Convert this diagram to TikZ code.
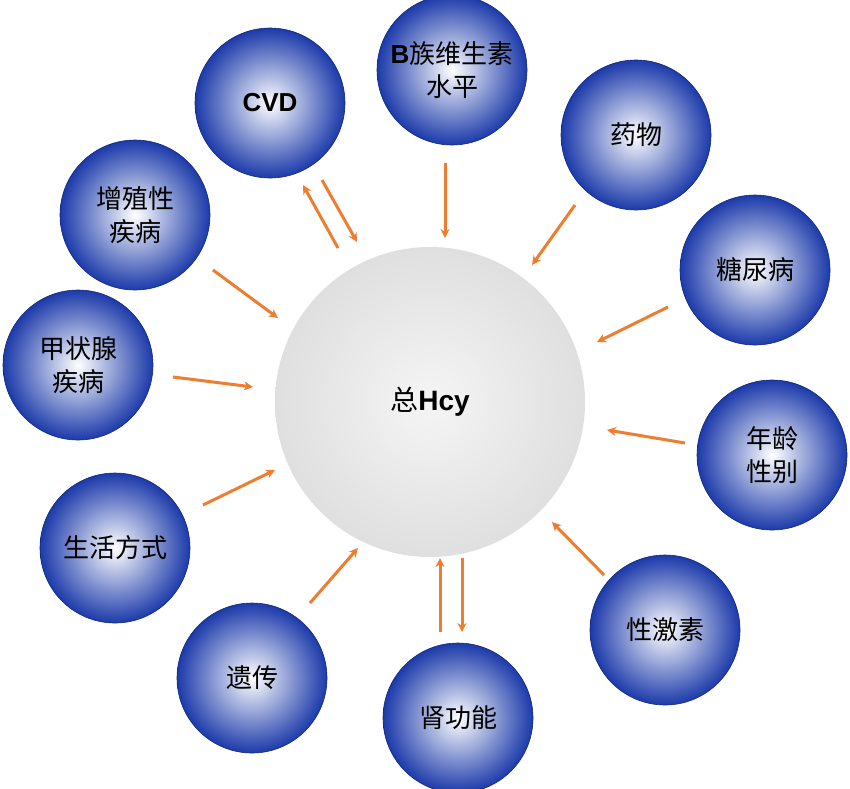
\documentclass[tikz,border=0pt]{standalone}
\usetikzlibrary{arrows.meta}
\usepackage{fontspec}
\setmainfont{Noto Sans CJK SC}
\newfontfamily\lat{Liberation Sans}
\definecolor{ballblue}{RGB}{28,58,170}
\definecolor{arr}{RGB}{237,125,49}
\begin{document}
\begin{tikzpicture}[x=1pt,y=-1pt,
  ball/.style={circle,minimum size=150pt,inner sep=0pt,align=center,font=\fontsize{26}{33}\selectfont,
    shading=radial,inner color=white,middle color={white!35!ballblue},outer color=ballblue,draw=ballblue!70!black,line width=0.6pt},
  ar/.style={draw=arr,line width=3pt,-{Stealth[length=9pt,width=9pt]}}]
\useasboundingbox (0,0) rectangle (850,788);
\node[circle,minimum size=310pt,shading=radial,inner color={gray!8},outer color={gray!25},font=\fontsize{28}{32}\selectfont] (c) at (430,402) {总{\lat\bfseries Hcy}};
\node[ball] (cvd) at (270,103) {{\lat\bfseries CVD}};
\node[ball] (b) at (452,70) {{\lat\bfseries B}族维生素\\水平};
\node[ball] (yw) at (636,135) {药物};
\node[ball] (tn) at (755,270) {糖尿病};
\node[ball] (nl) at (772,455) {年龄\\性别};
\node[ball] (xj) at (665,630) {性激素};
\node[ball] (sg) at (458,718) {肾功能};
\node[ball] (yc) at (252,678) {遗传};
\node[ball] (sh) at (115,548) {生活方式};
\node[ball] (jz) at (78,365) {甲状腺\\疾病};
\node[ball] (zz) at (135,215) {增殖性\\疾病};
\coordinate (a1) at (322,180); \coordinate (a2) at (357,242);
\coordinate (a3) at (338,248); \coordinate (a4) at (303,185);
\draw[ar] (a1) -- (a2); \draw[ar] (a3) -- (a4);
\coordinate (b1) at (445,163); \coordinate (b2) at (445,238); \draw[ar] (b1) -- (b2);
\coordinate (y1) at (575,205); \coordinate (y2) at (532,265); \draw[ar] (y1) -- (y2);
\coordinate (t1) at (668,307); \coordinate (t2) at (597,342); \draw[ar] (t1) -- (t2);
\coordinate (n1) at (685,443); \coordinate (n2) at (607,430); \draw[ar] (n1) -- (n2);
\coordinate (x1) at (604,575); \coordinate (x2) at (552,522); \draw[ar] (x1) -- (x2);
\coordinate (s1) at (440,632); \coordinate (s2) at (440,558); \draw[ar] (s1) -- (s2);
\coordinate (s3) at (462,558); \coordinate (s4) at (462,632); \draw[ar] (s3) -- (s4);
\coordinate (g1) at (310,603); \coordinate (g2) at (358,548); \draw[ar] (g1) -- (g2);
\coordinate (h1) at (203,505); \coordinate (h2) at (275,470); \draw[ar] (h1) -- (h2);
\coordinate (j1) at (173,377); \coordinate (j2) at (253,387); \draw[ar] (j1) -- (j2);
\coordinate (z1) at (213,270); \coordinate (z2) at (278,318); \draw[ar] (z1) -- (z2);
\end{tikzpicture}
\end{document}
